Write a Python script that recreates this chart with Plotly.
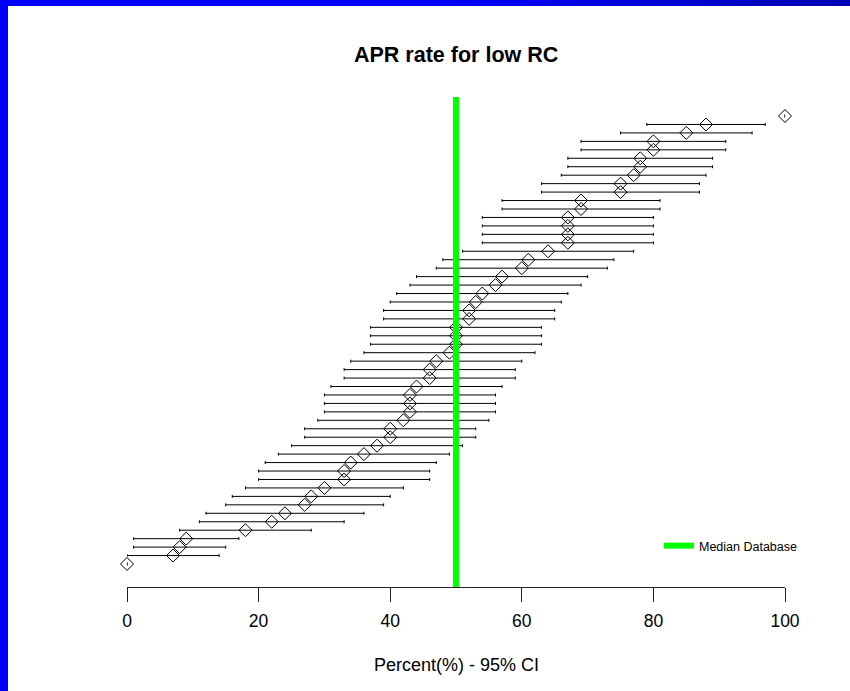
import plotly.graph_objects as go

# ---- data (rows listed top -> bottom) ----
values = [100, 88, 85, 80, 80, 78, 78, 77, 75, 75, 69, 69, 67, 67, 67, 67, 64, 61, 60, 57,
          56, 54, 53, 52, 52, 50, 50, 50, 49, 47, 46, 46, 44, 43, 43, 43, 42, 40, 40, 38,
          36, 34, 33, 33, 30, 28, 27, 24, 22, 18, 9, 8, 7, 0]
lower = [100, 79, 75, 69, 69, 67, 67, 66, 63, 63, 57, 57, 54, 54, 54, 54, 51, 48, 47, 44,
         43, 41, 40, 39, 39, 37, 37, 37, 36, 34, 33, 33, 31, 30, 30, 30, 29, 27, 27, 25,
         23, 21, 20, 20, 18, 16, 15, 12, 11, 8, 1, 1, 0, 0]
upper = [100, 97, 95, 91, 91, 89, 89, 88, 87, 87, 81, 81, 80, 80, 80, 80, 77, 74, 73, 70,
         69, 67, 66, 65, 65, 63, 63, 63, 62, 60, 59, 59, 57, 56, 56, 56, 55, 53, 53, 51,
         49, 47, 46, 46, 42, 40, 39, 36, 33, 28, 17, 15, 14, 0]
median_database = 50
x_ticks = [0, 20, 40, 60, 80, 100]

n = len(values)
rows = list(range(n, 0, -1))
err_plus = [u - v for u, v in zip(upper, values)]
err_minus = [v - l for v, l in zip(values, lower)]

FONT = "Liberation Sans, Arial, Helvetica, sans-serif"

W, H = 850, 691
L, R, T, B = 127, 65, 97, 104
PW, PH = W - L - R, H - T - B


def px_x(p):
    return (p - L) / PW


def px_y(p):
    return (H - B - p) / PH


fig = go.Figure()
fig.add_trace(go.Scatter(
    x=values, y=rows, mode="markers",
    marker=dict(symbol="diamond-open", size=10, color="black", line=dict(width=1, color="black")),
    error_x=dict(type="data", symmetric=False, array=err_plus, arrayminus=err_minus,
                 color="black", thickness=1, width=1.5),
    cliponaxis=False, showlegend=False, hoverinfo="x",
))

shapes = []
# median reference line (with legend entry)
shapes.append(dict(type="line", xref="x", yref="paper", x0=median_database, x1=median_database,
                   y0=0, y1=1, line=dict(color="#00FF00", width=6), layer="above",
                   showlegend=True, name="Median Database"))

# blue frame: left band and top band with a slight gradient
shapes.append(dict(type="rect", xref="paper", yref="paper", x0=px_x(0), x1=px_x(8),
                   y0=px_y(H), y1=px_y(0), fillcolor="#0000FF", line=dict(width=0), layer="below"))
segs = 34
for i in range(segs):
    a = i * W / segs
    b = (i + 1) * W / segs + 1
    t = max(0.0, (a - 420) / (W - 420))
    g = int(round(255 - t * (255 - 176)))
    shapes.append(dict(type="rect", xref="paper", yref="paper", x0=px_x(a), x1=px_x(b),
                       y0=px_y(6), y1=px_y(0), fillcolor="rgb(0,0,%d)" % g,
                       line=dict(width=0), layer="below"))

annotations = [
    dict(text="<b>APR rate for low RC</b>", xref="paper", yref="paper", x=0.5, y=px_y(55),
         xanchor="center", yanchor="middle", showarrow=False,
         font=dict(family=FONT, size=21.5, color="black")),
    dict(text="Percent(%) - 95% CI", xref="paper", yref="paper", x=0.5, y=px_y(665),
         xanchor="center", yanchor="middle", showarrow=False,
         font=dict(family=FONT, size=18, color="black")),
]

fig.update_layout(
    width=W, height=H,
    margin=dict(l=L, r=R, t=T, b=B, pad=0),
    paper_bgcolor="white", plot_bgcolor="white",
    shapes=shapes, annotations=annotations,
    xaxis=dict(range=[0, 100], tickvals=x_ticks, ticktext=[str(v) for v in x_ticks],
               showline=True, linecolor="#222222", linewidth=1, ticks="outside", ticklen=14,
               tickcolor="#222222", tickwidth=1, showgrid=False, zeroline=False,
               tickfont=dict(family=FONT, size=17.5, color="black"), ticklabelstandoff=4),
    yaxis=dict(range=[-1.72, 56.25], visible=False, showgrid=False, zeroline=False),
    legend=dict(x=px_x(659), y=px_y(546), xanchor="left", yanchor="middle",
                bgcolor="rgba(0,0,0,0)", font=dict(family=FONT, size=12.5, color="black")),
    showlegend=True,
)

fig.write_html("out.html")
